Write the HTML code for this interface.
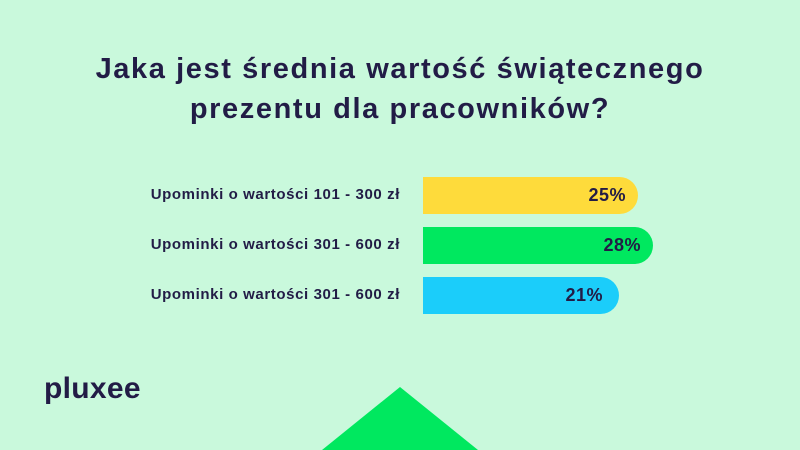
<!DOCTYPE html>
<html><head><meta charset="utf-8"><style>
body{margin:0;width:800px;height:450px;overflow:hidden;background:#c9f9dc;font-family:"Liberation Sans",sans-serif;color:#221c46;position:relative}
.t{position:absolute;left:0;width:800px;text-align:center;font-weight:bold;font-size:29px;letter-spacing:1.6px;line-height:40px;top:49px}
.l{position:absolute;right:400px;font-weight:bold;font-size:15px;letter-spacing:0.6px;white-space:nowrap}
.b{position:absolute;left:423px;height:37px;border-radius:0 19px 19px 0;font-weight:bold;font-size:18px;letter-spacing:0.5px;text-align:right;box-sizing:border-box;padding-right:12px;line-height:37px}
.logo{position:absolute;left:44px;top:372px;font-weight:bold;font-size:30px;letter-spacing:0.3px}
</style></head><body>
<div class="t">Jaka jest średnia wartość świątecznego<br>prezentu dla pracowników?</div>
<div class="l" style="top:186px">Upominki o wartości 101 - 300 zł</div>
<div class="l" style="top:236px">Upominki o wartości 301 - 600 zł</div>
<div class="l" style="top:286px">Upominki o wartości 301 - 600 zł</div>
<div class="b" style="top:177px;width:215px;background:#fedb3b">25%</div>
<div class="b" style="top:227px;width:230px;background:#00e85f">28%</div>
<div class="b" style="top:277px;width:196px;background:#1bcdfa;padding-right:16px">21%</div>
<div class="logo">pluxee</div>
<svg style="position:absolute;left:0;top:0" width="800" height="450"><polygon points="322,450 400,387 478,450" fill="#00e85f"/></svg>
</body></html>
